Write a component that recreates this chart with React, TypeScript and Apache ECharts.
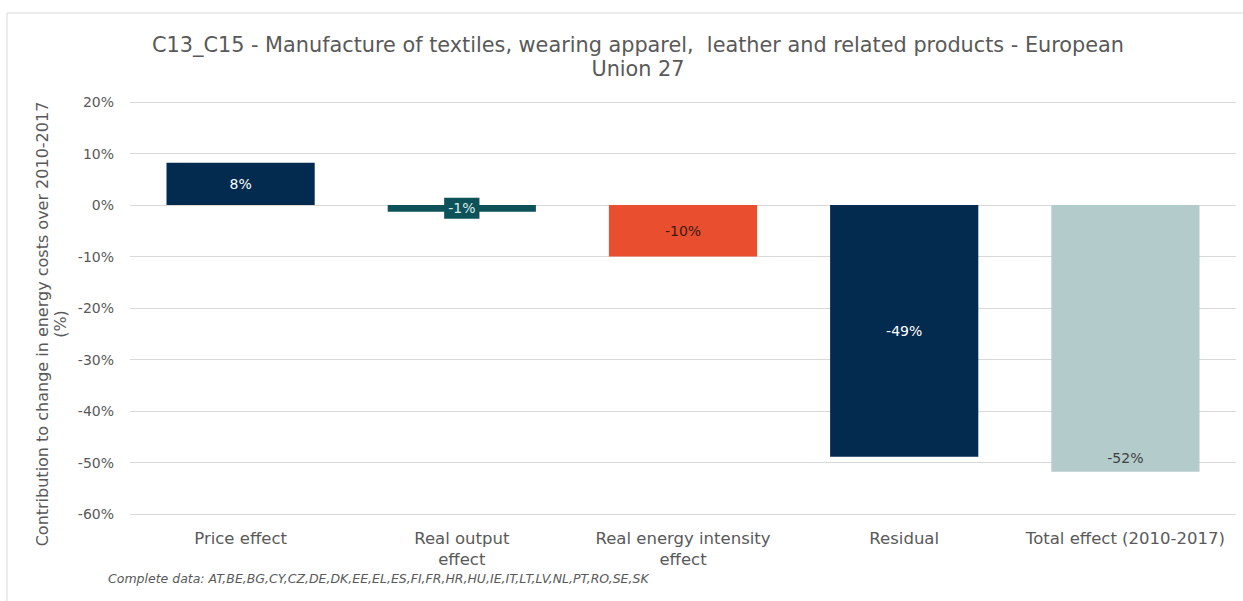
import React, { useEffect, useRef } from "react";
import * as echarts from "echarts";

const categories = [
  "Price effect",
  "Real output\neffect",
  "Real energy intensity\neffect",
  "Residual",
  "Total effect (2010-2017)",
];
const values = [8.2, -1.3, -10.0, -48.9, -51.8];
const barColors = ["#032b50", "#0d5258", "#e94f2f", "#032b50", "#b3cccb"];
const labelColors = ["#ffffff", "#d9ecec", "#3a1a10", "#ffffff", "#404040"];
const yTicks = { min: -60, max: 20, interval: 10 };
const titleText =
  "C13_C15 - Manufacture of textiles, wearing apparel,  leather and related products - European\nUnion 27";
const yAxisTitle = "Contribution to change in energy costs over 2010-2017\n(%)";
const noteText =
  "Complete data: AT,BE,BG,CY,CZ,DE,DK,EE,EL,ES,FI,FR,HR,HU,IE,IT,LT,LV,NL,PT,RO,SE,SK";

const FONT = "DejaVu Sans";
const GRAY = "#595959";

export default function App() {
  const ref = useRef<HTMLDivElement>(null);
  useEffect(() => {
    if (!ref.current) return;
    const chart = echarts.init(ref.current, undefined, { renderer: "svg" });
    const data = values.map((v, i) => {
      const label: any = {
        show: true,
        position: i === 4 ? "insideBottom" : "inside",
        distance: 7,
        color: labelColors[i],
        fontFamily: FONT,
        fontSize: 14,
        formatter: (p: any) => Math.round(p.value) + "%",
      };
      if (i === 1) {
        label.backgroundColor = barColors[1];
        label.padding = [4, 4, 3, 4];
      }
      return { value: v, itemStyle: { color: barColors[i] }, label };
    });
    chart.setOption({
      animation: false,
      backgroundColor: "#ffffff",
      title: {
        text: titleText,
        left: 633,
        top: 28,
        textAlign: "center",
        textStyle: {
          fontFamily: FONT,
          fontSize: 20.8,
          fontWeight: "normal",
          color: GRAY,
          lineHeight: 24,
        },
      },
      grid: { left: 130, right: 7, top: 102, bottom: 87, containLabel: false },
      xAxis: {
        type: "category",
        data: categories,
        axisLine: { show: false, onZero: false },
        axisTick: { show: false },
        axisLabel: {
          color: GRAY,
          fontFamily: FONT,
          fontSize: 16.5,
          lineHeight: 21,
          margin: 14,
          interval: 0,
        },
      },
      yAxis: {
        type: "value",
        min: yTicks.min,
        max: yTicks.max,
        interval: yTicks.interval,
        axisLine: { show: false },
        axisTick: { show: false },
        splitLine: { lineStyle: { color: "#d9d9d9", width: 1 } },
        axisLabel: {
          formatter: "{value}%",
          color: GRAY,
          fontFamily: FONT,
          fontSize: 14,
          margin: 16,
        },
      },
      series: [
        {
          type: "bar",
          data,
          barCategoryGap: "33%",
        },
      ],
      graphic: [
        {
          type: "rect",
          silent: true,
          shape: { x: 7, y: 13, width: 1260, height: 620 },
          style: { fill: "none", stroke: "#d9d9d9", lineWidth: 1 },
          z: -1,
        },
        {
          type: "text",
          x: 51,
          y: 324,
          rotation: Math.PI / 2,
          style: {
            text: yAxisTitle,
            fontFamily: FONT,
            fontSize: 16,
            lineHeight: 18,
            fill: GRAY,
            align: "center",
            verticalAlign: "middle",
          },
        },
        {
          type: "text",
          x: 108,
          y: 578,
          style: {
            text: noteText,
            fontFamily: FONT,
            fontSize: 12.5,
            fontStyle: "italic",
            fill: GRAY,
            align: "left",
            verticalAlign: "middle",
          },
        },
      ],
    });
    return () => chart.dispose();
  }, []);
  return (
    <div
      ref={ref}
      style={{ position: "absolute", left: 0, top: 0, width: 1243, height: 601 }}
    />
  );
}
